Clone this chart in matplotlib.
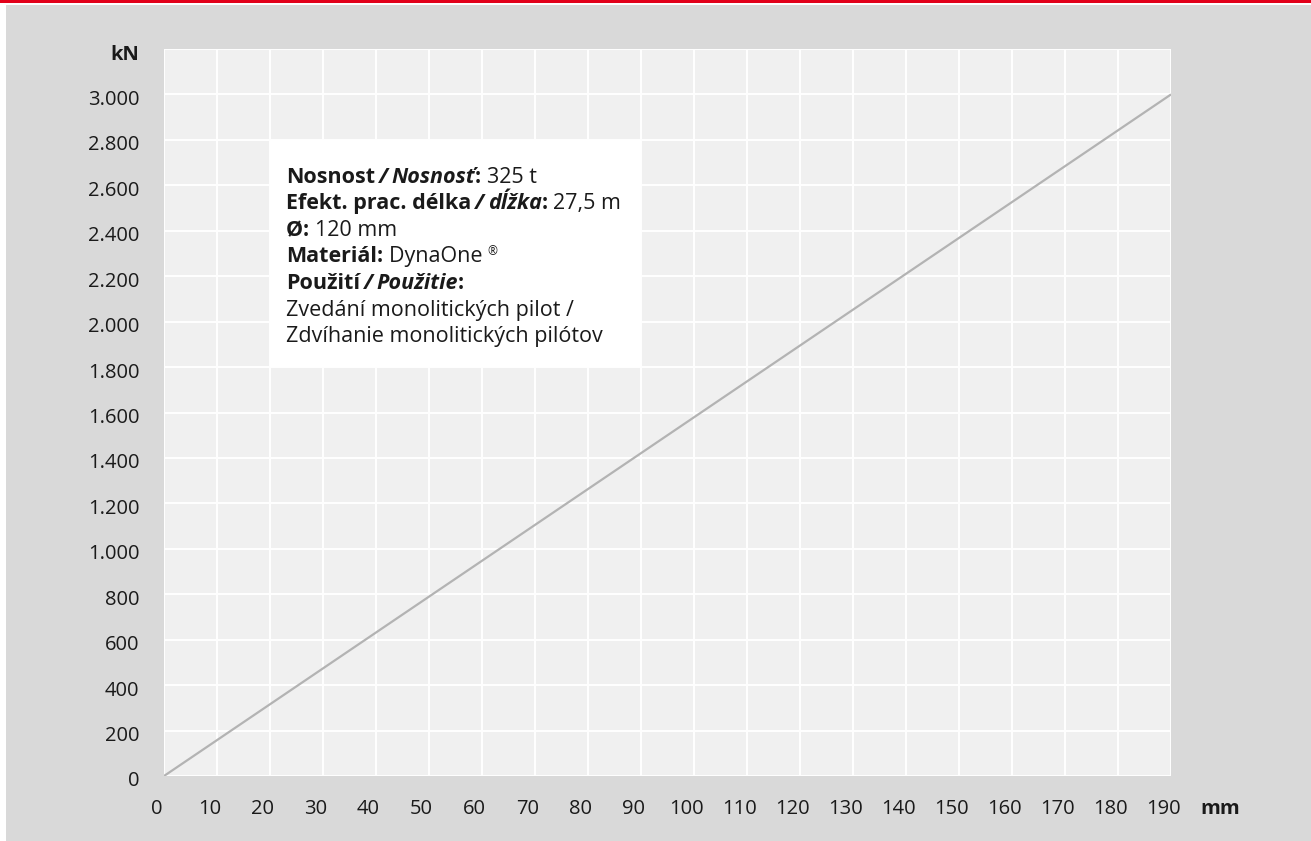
import matplotlib
matplotlib.use("Agg")
import matplotlib.pyplot as plt
from matplotlib.transforms import ScaledTranslation, offset_copy
from matplotlib.patches import Rectangle
from matplotlib.ticker import FixedLocator, FuncFormatter

plt.rcParams['font.family'] = ['Open Sans', 'DejaVu Sans']

# ---------------- data ----------------
elongation_mm = [0, 190]
force_kN = [0, 3000]
x_ticks = list(range(0, 191, 10))
y_ticks = list(range(0, 3001, 200))
x_unit = "mm"
y_unit = "kN"

SL = "/"
info_lines = [
    [("Nosnost", "bold", "normal"), (SL, "slash", "italic"), ("Nosnosť", "bold", "italic"),
     (": ", "bold", "normal"), ("325 t", "normal", "normal")],
    [("Efekt. prac. délka", "bold", "normal"), (SL, "slash", "italic"), ("dĺžka", "bold", "italic"),
     (": ", "bold", "normal"), ("27,5 m", "normal", "normal")],
    [("Ø", "bold", "normal"), (": ", "bold", "normal"), ("120 mm", "normal", "normal")],
    [("Materiál", "bold", "normal"), (": ", "bold", "normal"), ("DynaOne ", "normal", "normal"),
     ("®", "sup", "normal")],
    [("Použití", "bold", "normal"), (SL, "slash", "italic"), ("Použitie", "bold", "italic"),
     (":", "bold", "normal")],
    [("Zvedání monolitických pilot /", "normal", "normal")],
    [("Zdvíhanie monolitických pilótov", "normal", "normal")],
]

# ---------------- figure ----------------
W, H, DPI = 1311, 841, 100
fig = plt.figure(figsize=(W / DPI, H / DPI), dpi=DPI, facecolor="white")

# background panel and red top bar
fig.patches.append(Rectangle((6 / W, 0), 1 - 6 / W, 1 - 4.7 / H, transform=fig.transFigure,
                             facecolor="#d9d9d9", edgecolor="none", zorder=-10))
fig.patches.append(Rectangle((0, 1 - 3 / H), 1, 3 / H, transform=fig.transFigure,
                             facecolor="#e2001a", edgecolor="none", zorder=-10))

left, right, bottom, top = 164 / W, 1171 / W, 1 - 776 / H, 1 - 49 / H
ax = fig.add_axes([left, bottom, right - left, top - bottom])
ax.set_facecolor("#f0f0f0")
for s in ax.spines.values():
    s.set_visible(False)

ax.set_xlim(0, 190)
ax.set_ylim(0, 3200)

ax.xaxis.set_major_locator(FixedLocator(x_ticks))
ax.yaxis.set_major_locator(FixedLocator(y_ticks + [3200]))


def yfmt(v, pos):
    if v > 3000:
        return y_unit
    return f"{int(v):,}".replace(",", ".")


ax.yaxis.set_major_formatter(FuncFormatter(yfmt))
ax.xaxis.set_major_formatter(FuncFormatter(lambda v, p: f"{int(v)}"))

TICK_FS = 14.5
ax.grid(True, color="white", linewidth=1.4)
ax.set_axisbelow(True)
ax.tick_params(axis="both", length=0, labelsize=TICK_FS, labelcolor="#1a1a1a")
ax.tick_params(axis="y", pad=17.8)
ax.tick_params(axis="x", pad=16.5)

ax.plot(elongation_mm, force_kN, color="#b3b3b3", linewidth=1.6, solid_capstyle="butt", zorder=3)

fig.canvas.draw()
for lab in ax.get_xticklabels():
    lab.set_transform(lab.get_transform() + ScaledTranslation(-7.5 / DPI, 0, fig.dpi_scale_trans))
for lab in ax.get_yticklabels():
    lab.set_transform(lab.get_transform() + ScaledTranslation(0, -3 / DPI, fig.dpi_scale_trans))
    if lab.get_text() == y_unit:
        lab.set_fontweight("bold")

# x unit label beyond the axis end
ax.annotate(x_unit, xy=(200, 0), xycoords=("data", "axes fraction"),
            xytext=(-4, -38), textcoords="offset pixels", ha="center", va="baseline",
            fontsize=TICK_FS, fontweight="bold", color="#1a1a1a", annotation_clip=False)

# info box
box_x0, box_x1, box_y0, box_y1 = 20, 90, 1800, 2800
ax.add_patch(Rectangle((box_x0, box_y0), box_x1 - box_x0, box_y1 - box_y0,
                       facecolor="white", edgecolor="none", zorder=4))

renderer = fig.canvas.get_renderer()
fs = 15.5
first_base = 42.7
line_step = 26.6
for i, segs in enumerate(info_lines):
    dx = 16.0
    dy = -(first_base + i * line_step)
    for txt, weight, style in segs:
        size = fs
        yoff = 0
        w = weight
        pre = 0.0
        post = 0.0
        if weight == "sup":
            size = fs * 0.55
            yoff = 7
            w = "normal"
        elif weight == "slash":
            w = "bold"
            pre = 4.0
            post = 3.5
        dx += pre
        tr = offset_copy(ax.transData, fig=fig, x=dx, y=dy + yoff, units="dots")
        ax.text(box_x0, box_y1, txt, transform=tr, fontsize=size, fontweight=w,
                fontstyle=style, color="#1a1a1a", ha="left", va="baseline", zorder=5)
        # measure advance including trailing spaces
        probe = ax.text(0, 0, txt.replace(" ", "\u00a0") + "|", fontsize=size, fontweight=w,
                        fontstyle=style, transform=None)
        bar = ax.text(0, 0, "|", fontsize=size, fontweight=w, fontstyle=style, transform=None)
        adv = probe.get_window_extent(renderer).width - bar.get_window_extent(renderer).width
        probe.remove()
        bar.remove()
        dx += adv + post

fig.savefig("out.png", dpi=DPI, facecolor=fig.get_facecolor())
